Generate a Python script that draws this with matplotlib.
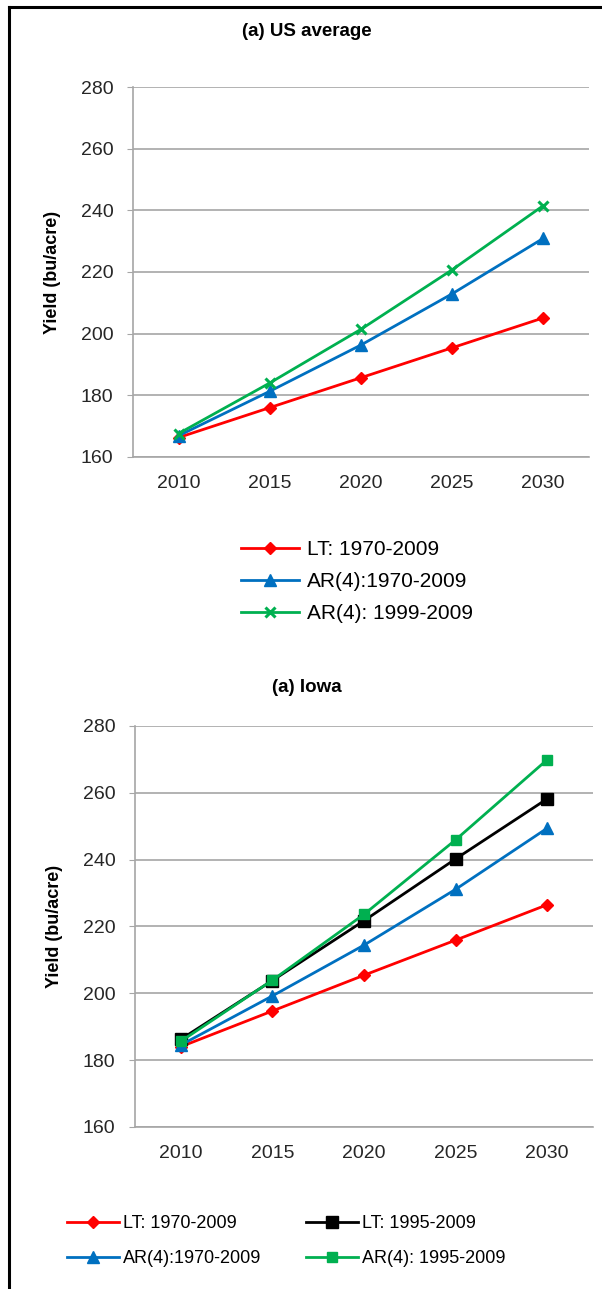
import matplotlib.pyplot as plt
from matplotlib.lines import Line2D

plt.rcParams["font.family"] = ["Liberation Sans", "DejaVu Sans"]

years = ["2010", "2015", "2020", "2025", "2030"]
y_ticks = [160, 180, 200, 220, 240, 260, 280]

# (a) US average
us_lt_1970 = [166.3, 176.0, 185.7, 195.4, 205.1]
us_ar_1970 = [166.9, 181.3, 196.3, 212.9, 230.9]
us_ar_1999 = [167.6, 184.0, 201.4, 220.7, 241.5]

# (a) Iowa
ia_lt_1970 = [184.0, 194.7, 205.4, 215.9, 226.5]
ia_lt_1995 = [186.2, 203.8, 221.7, 240.2, 258.2]
ia_ar_1970 = [184.5, 199.2, 214.4, 231.1, 249.4]
ia_ar_1995 = [185.6, 203.9, 223.6, 245.9, 269.9]

RED = "#FF0000"
BLUE = "#0070C0"
GREEN = "#00B050"
GRID = "#A6A6A6"

fig = plt.figure(figsize=(6.02, 12.89), dpi=100)


def style_axes(ax):
    ax.set_ylim(160, 280)
    ax.set_xlim(-0.5, len(years) - 0.5)
    ax.set_yticks(y_ticks)
    ax.set_xticks(range(len(years)))
    ax.set_xticklabels(years)
    ax.yaxis.grid(True, color=GRID, linewidth=1.2)
    ax.set_axisbelow(True)
    for s in ["top", "right"]:
        ax.spines[s].set_visible(False)
    for s in ["left", "bottom"]:
        ax.spines[s].set_color(GRID)
        ax.spines[s].set_linewidth(1.2)
    ax.tick_params(axis="y", length=4, color=GRID, pad=10, labelsize=14,
                   labelcolor="#262626")
    ax.tick_params(axis="x", length=0, pad=13, labelsize=14,
                   labelcolor="#262626")
    ax.set_ylabel("Yield (bu/acre)", fontsize=13, fontweight="bold", labelpad=14)


lw = 2.0

# top chart
ax1 = fig.add_axes([0.221, 0.6455, 0.757, 0.2870])
x = range(len(years))
ax1.plot(x, us_lt_1970, color=RED, lw=lw, marker="D", ms=6.5, label="LT: 1970-2009")
ax1.plot(x, us_ar_1970, color=BLUE, lw=lw, marker="^", ms=8.5, label="AR(4):1970-2009")
ax1.plot(x, us_ar_1999, color=GREEN, lw=lw, marker="x", ms=7.5, mew=2.2,
         label="AR(4): 1999-2009")
style_axes(ax1)
fig.text(0.51, 1 - 31 / 1289, "(a) US average", ha="center", va="center",
         fontsize=13.5, fontweight="bold")
h1, l1 = ax1.get_legend_handles_labels()
fig.legend(h1, l1, loc="upper left", bbox_to_anchor=(241 / 602, 1 - 540 / 1289),
           frameon=False, fontsize=15, handlelength=2.8, handletextpad=0.38,
           labelspacing=0.62, borderpad=0, borderaxespad=0)

# bottom chart
ax2 = fig.add_axes([0.224, 0.1257, 0.761, 0.3111])
l_a, = ax2.plot(x, ia_lt_1970, color=RED, lw=lw, marker="D", ms=6.5, label="LT: 1970-2009")
l_b, = ax2.plot(x, ia_lt_1995, color="black", lw=lw, marker="s", ms=8, label="LT: 1995-2009")
l_c, = ax2.plot(x, ia_ar_1970, color=BLUE, lw=lw, marker="^", ms=8.5, label="AR(4):1970-2009")
l_d, = ax2.plot(x, ia_ar_1995, color=GREEN, lw=lw, marker="s", ms=7, label="AR(4): 1995-2009")
style_axes(ax2)
fig.text(0.51, 1 - 688 / 1289, "(a) Iowa", ha="center", va="center",
         fontsize=13.5, fontweight="bold")
fig.legend([l_a, l_c, l_b, l_d],
           ["LT: 1970-2009", "AR(4):1970-2009", "LT: 1995-2009", "AR(4): 1995-2009"],
           ncol=2, loc="upper left", bbox_to_anchor=(67 / 602, 1 - 1215 / 1289),
           frameon=False, fontsize=13, handlelength=2.9, handletextpad=0.2,
           labelspacing=1.02, columnspacing=2.45, borderpad=0, borderaxespad=0)

# black frame lines (left and top)
fig.add_artist(Line2D([9 / 602, 9 / 602], [0, 1 - 7 / 1289], color="black",
                      lw=2.2, transform=fig.transFigure))
fig.add_artist(Line2D([9 / 602, 1], [1 - 7 / 1289, 1 - 7 / 1289], color="black",
                      lw=2.2, transform=fig.transFigure))

fig.savefig("out.png", dpi=100)
